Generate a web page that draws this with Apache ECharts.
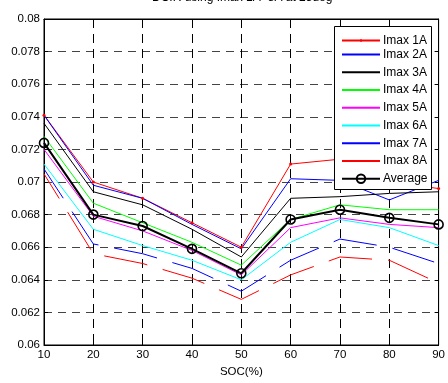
<!DOCTYPE html>
<html>
<head>
<meta charset="utf-8">
<script src="https://cdn.jsdelivr.net/npm/echarts@6/dist/echarts.min.js"></script>
<style>html,body{margin:0;padding:0;background:#fff}#c{width:448px;height:383px}</style>
</head>
<body>
<div id="c"></div>
<script>
// ---- data ----
var soc = [10, 20, 30, 40, 50, 60, 70, 80, 90];
var imax1A = [0.0741, 0.0700, 0.0690, 0.0675, 0.0660, 0.0711, 0.0714, 0.0700, 0.0696];
var imax2A = [0.0741, 0.0698, 0.0690, 0.0674, 0.0659, 0.0702, 0.0701, 0.0689, 0.0701];
var imax3A = [0.0736, 0.0694, 0.0686, 0.0671, 0.0654, 0.0690, 0.0691, 0.0693, 0.0694];
var imax4A = [0.0728, 0.0687, 0.0675, 0.0663, 0.0649, 0.0677, 0.0686, 0.0683, 0.0683];
var imax5A = [0.0720, 0.0679, 0.0670, 0.0658, 0.0643, 0.0672, 0.0678, 0.0674, 0.0672];
var imax6A = [0.0711, 0.0671, 0.0661, 0.0652, 0.0640, 0.0663, 0.0677, 0.0672, 0.0661];
var imax7A = [0.0708, 0.0662, 0.0656, 0.0647, 0.0633, 0.0652, 0.0665, 0.0660, 0.0650];
var imax8A = [0.0705, 0.0656, 0.0650, 0.0641, 0.0628, 0.0643, 0.0654, 0.0652, 0.0638];
var average = [0.0724, 0.0680, 0.0673, 0.0659, 0.0644, 0.0677, 0.0683, 0.0678, 0.0674];
var seriesNames = ['Imax 1A', 'Imax 2A', 'Imax 3A', 'Imax 4A', 'Imax 5A', 'Imax 6A', 'Imax 7A', 'Imax 8A', 'Average'];
var titleText = 'DCIR using Imax 1A~8A at 25deg';
var xAxisName = 'SOC(%)';

// ---- chart ----
function pairs(ys) { return soc.map(function (x, i) { return [x, ys[i]]; }); }
var FONT = 'Liberation Sans, Arial, sans-serif';
var chart = echarts.init(document.getElementById('c'), null, { renderer: 'canvas' });

var styles = [
  { d: imax1A, color: '#ff0000', symbol: 'circle', size: 3 },
  { d: imax2A, color: '#0000ff' },
  { d: imax3A, color: '#000000' },
  { d: imax4A, color: '#00ff00' },
  { d: imax5A, color: '#ff00ff' },
  { d: imax6A, color: '#00ffff' },
  { d: imax7A, color: '#0000ff', dash: [44, 16], off: 9 },
  { d: imax8A, color: '#ff0000', dash: [44, 16], off: 15 },
  { d: average, color: '#000000', symbol: 'circle', size: 9, width: 2, hollow: true }
];

var series = styles.map(function (s, i) {
  return {
    name: seriesNames[i],
    type: 'line',
    data: pairs(s.d),
    symbol: s.symbol || 'none',
    symbolSize: s.size || 0,
    showSymbol: !!s.symbol,
    z: i === 8 ? 5 : 2,
    lineStyle: { color: s.color, width: s.width || 1, type: s.dash || 'solid', dashOffset: s.off || 0 },
    itemStyle: s.hollow
      ? { color: 'rgba(0,0,0,0)', borderColor: s.color, borderWidth: 1.6 }
      : { color: s.color, borderWidth: 0 },
    emphasis: { disabled: true }
  };
});

var legends = seriesNames.map(function (n, i) {
  var h = i === 0 ? 3 : 10.5;
  var cy = 36 + i * 17.75;
  return {
    data: [{ name: n, itemStyle: (i === 0 || i === 8) ? {} : { opacity: 0 } }],
    orient: 'vertical',
    left: 341,
    top: cy - h / 2,
    padding: 0,
    itemWidth: 38,
    itemHeight: h,
    itemGap: 3,
    z: 10,
    selectedMode: false,
    lineStyle: { type: 'solid', dashOffset: 0 },
    textStyle: { fontFamily: FONT, fontSize: 12, color: '#000', padding: [0, 0, 0, -2] }
  };
});

var yFmt = function (v) { return String(parseFloat(v.toFixed(3))); };

chart.setOption({
  animation: false,
  backgroundColor: '#fff',
  title: {
    text: titleText,
    left: 152, top: -8, padding: 0,
    textStyle: { fontFamily: FONT, fontSize: 12, fontWeight: 'normal', color: '#000' }
  },
  legend: legends,
  grid: { left: 44, right: 9, top: 19, bottom: 37, show: true, borderColor: '#000', borderWidth: 1, containLabel: false },
  xAxis: [{
    type: 'value', min: 10, max: 90, interval: 10,
    name: xAxisName, nameLocation: 'middle', nameGap: 21,
    nameTextStyle: { fontFamily: FONT, fontSize: 11.5, color: '#000' },
    axisLine: { lineStyle: { color: '#000', width: 1 } },
    axisTick: { inside: true, length: 4, lineStyle: { color: '#000' } },
    axisLabel: { fontFamily: FONT, fontSize: 11.5, color: '#000', margin: 4 },
    splitLine: { show: true, lineStyle: { color: '#000', type: [9, 6], width: 1 } }
  }, {
    type: 'value', position: 'top', min: 10, max: 90, interval: 10,
    axisLine: { lineStyle: { color: '#000' } },
    axisTick: { inside: true, length: 4, lineStyle: { color: '#000' } },
    axisLabel: { show: false }, splitLine: { show: false }
  }],
  yAxis: [{
    type: 'value', min: 0.06, max: 0.08, interval: 0.002,
    axisLine: { show: true, lineStyle: { color: '#000', width: 1 } },
    axisTick: { show: true, inside: true, length: 4, lineStyle: { color: '#000' } },
    axisLabel: { fontFamily: FONT, fontSize: 11.5, color: '#000', margin: 4, formatter: yFmt },
    splitLine: { show: true, lineStyle: { color: '#444', type: [8, 6], width: 1 } }
  }, {
    type: 'value', position: 'right', min: 0.06, max: 0.08, interval: 0.002,
    axisLine: { show: true, lineStyle: { color: '#000' } },
    axisTick: { show: true, inside: true, length: 4, lineStyle: { color: '#000' } },
    axisLabel: { show: false }, splitLine: { show: false }
  }],
  graphic: [{
    type: 'rect', z: 8,
    shape: { x: 334.5, y: 26.5, width: 97, height: 163 },
    style: { fill: '#fff', stroke: '#000', lineWidth: 1 }
  }],
  series: series
});
</script>
</body>
</html>
